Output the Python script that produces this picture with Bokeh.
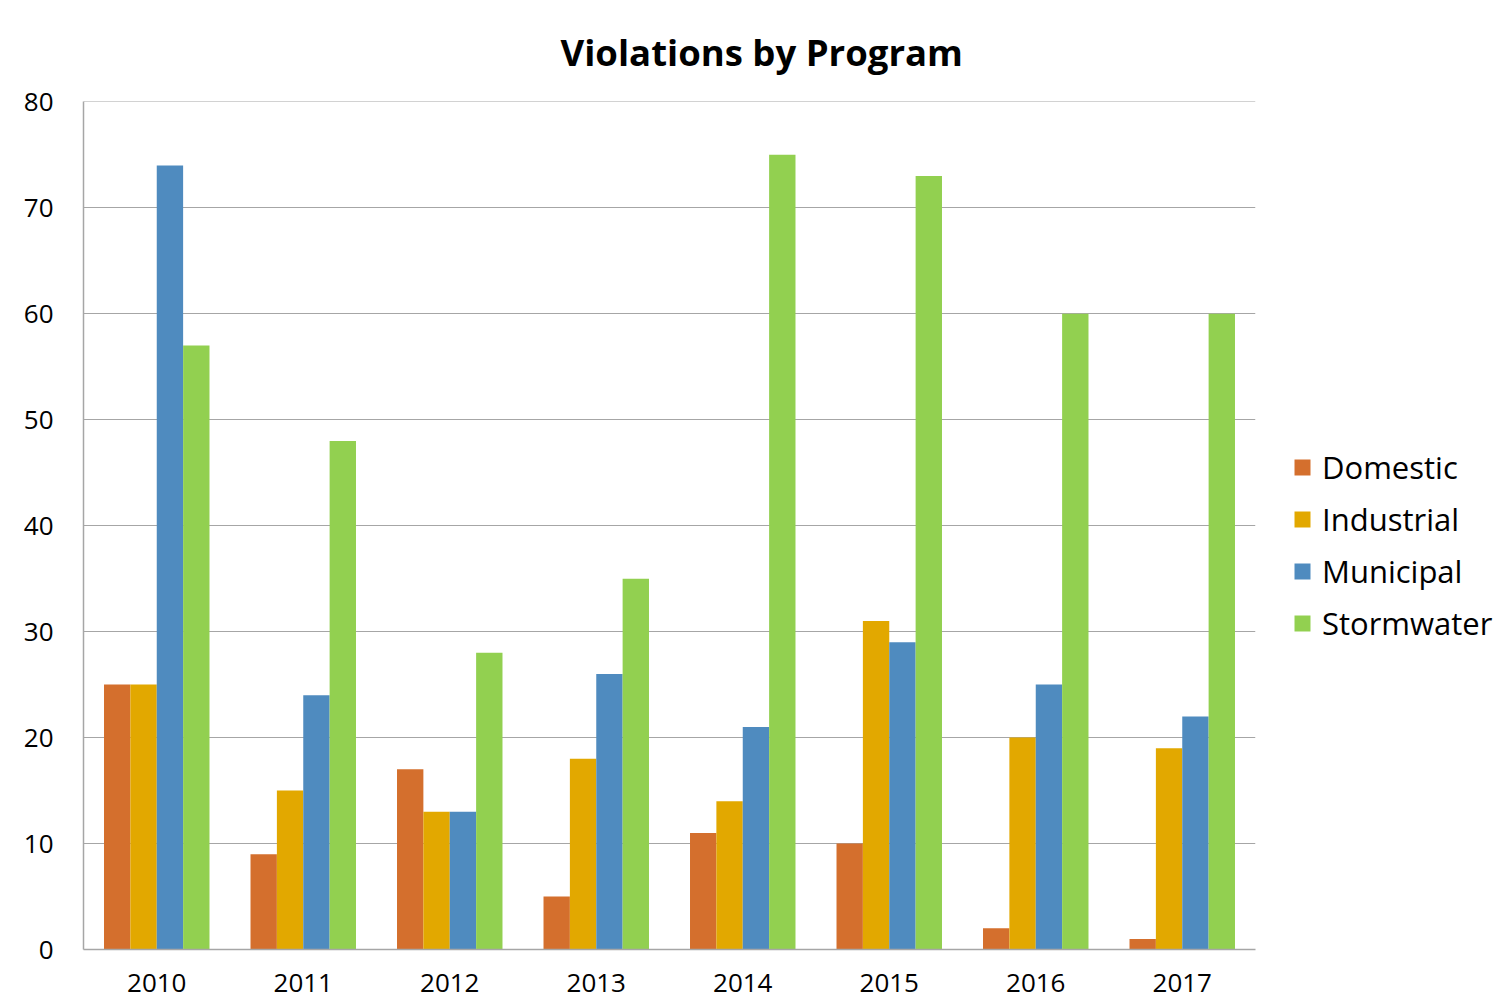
from bokeh.plotting import figure
from bokeh.models import FactorRange, Range1d, Legend, LegendItem, ColumnDataSource, FixedTicker, Title
from bokeh.transform import dodge
from bokeh.embed import file_html
from bokeh.resources import INLINE

years = ["2010", "2011", "2012", "2013", "2014", "2015", "2016", "2017"]
programs = ["Domestic", "Industrial", "Municipal", "Stormwater"]
domestic = [25, 9, 17, 5, 11, 10, 2, 1]
industrial = [25, 15, 13, 18, 14, 31, 20, 19]
municipal = [74, 24, 13, 26, 21, 29, 25, 22]
stormwater = [57, 48, 28, 35, 75, 73, 60, 60]
colors = ["#D46F2D", "#E2A800", "#4F8BBF", "#92D050"]
y_ticks = [0, 10, 20, 30, 40, 50, 60, 70, 80]
title_text = "Violations by Program"

FONT = "Open Sans"

src = ColumnDataSource(dict(years=years, Domestic=domestic, Industrial=industrial,
                            Municipal=municipal, Stormwater=stormwater))

p = figure(frame_width=1172, frame_height=848, x_range=FactorRange(*years, range_padding=0),
           y_range=Range1d(0, 80.03), output_backend="svg", toolbar_location=None,
           min_border_left=83, min_border_right=0, min_border_top=101, min_border_bottom=53)
p.title = None
t = Title(text=title_text, align="left", vertical_align="top", text_font=FONT,
          text_font_size="36.5px", text_font_style="bold", text_color="#000000",
          offset=477, standoff=46)
p.add_layout(t, "above")

p.outline_line_color = None
p.background_fill_color = "white"
p.border_fill_color = "white"

offsets = [-0.27, -0.09, 0.09, 0.27]
items = []
for prog, off, col in zip(programs, offsets, colors):
    r = p.vbar(x=dodge("years", off, range=p.x_range), top=prog, width=0.18, bottom=0,
               source=src, fill_color=col, line_color=None)
    items.append(LegendItem(label=prog, renderers=[r]))

p.xgrid.grid_line_color = None
p.ygrid.grid_line_color = "#A6A6A6"
p.ygrid.grid_line_width = 1
p.yaxis.ticker = FixedTicker(ticks=y_ticks)

for ax in (p.xaxis, p.yaxis):
    ax.axis_line_color = "#A6A6A6"
    ax.axis_line_width = 1.5
    ax.major_tick_line_color = None
    ax.minor_tick_line_color = None
    ax.major_label_text_font = FONT
    ax.major_label_text_font_size = "26px"
    ax.major_label_text_color = "#000000"
p.yaxis.major_label_standoff = 24
p.xaxis.major_label_standoff = 18

legend = Legend(items=items, location=(37, 305), orientation="vertical",
                label_text_font=FONT, label_text_font_size="31px", label_text_color="#000000",
                glyph_width=20, glyph_height=20, label_standoff=10, spacing=10,
                padding=0, margin=0, border_line_color=None, background_fill_alpha=0)
p.add_layout(legend, "right")

open("out.html", "w").write(file_html(p, INLINE))
